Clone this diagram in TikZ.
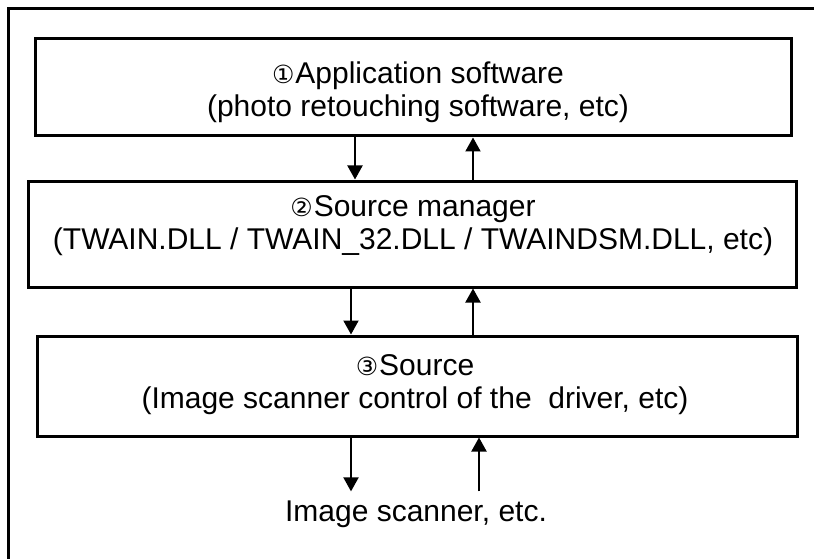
\documentclass[tikz,border=0pt]{standalone}
\usepackage{fontspec}
\setmainfont{Liberation Sans}
\newfontfamily\circfont{DejaVu Sans}
\newcommand{\numglyph}[1]{{\circfont\fontsize{25}{25}\selectfont #1}\kern1pt}
\usetikzlibrary{arrows.meta,positioning}

\begin{document}
\begin{tikzpicture}[x=1pt,y=-1pt,
	layer/.style={shape=rectangle,draw=black,line width=3pt,inner sep=0pt},
	caption/.style={align=center,font=\fontsize{30}{33}\selectfont},
	flow/.style={line width=2pt,-{Triangle[width=15pt,length=14pt]}}]
	
	\useasboundingbox (0,0) rectangle (814,559);
	\draw[line width=3pt] (814,9) -| (8,559);
	
	\node[layer,minimum width=756pt,minimum height=97pt] (app) at (413.5,87.5) {};
	\node[layer,minimum width=768pt,minimum height=106pt] (mgr) at (412,234) {};
	\node[layer,minimum width=760pt,minimum height=100pt] (src) at (417,386) {};
	
	\node[caption] (appText) at (418,92) {\numglyph{①}Application software\\(photo retouching software, etc)};
	\node[caption] (mgrText) at (413,225.5) {\numglyph{②}Source manager\\(TWAIN.DLL / TWAIN\_32.DLL / TWAINDSM.DLL, etc)};
	\node[caption] (srcText) at (415,384.5) {\numglyph{③}Source\\(Image scanner control of the~ driver, etc)};
	\node[caption,inner xsep=0pt,inner ysep=9pt] (scan) at (416,514) {Image scanner, etc.};
	
	\coordinate (dA) at (355,0);
	\coordinate (uA) at (473,0);
	\coordinate (dB) at (351,0);
	\coordinate (uB) at (473,0);
	\coordinate (dC) at (351,0);
	\coordinate (uC) at (479,0);
	
	\draw[flow] (dA |- app.south) -- (dA |- mgr.north);
	\draw[flow] (uA |- mgr.north) -- (uA |- app.south);
	\draw[flow] (dB |- mgr.south) -- (dB |- src.north);
	\draw[flow] (uB |- src.north) -- (uB |- mgr.south);
	\draw[flow] (dC |- src.south) -- (dC |- scan.north);
	\draw[flow] (uC |- scan.north) -- (uC |- src.south);
	
\end{tikzpicture}
\end{document}
